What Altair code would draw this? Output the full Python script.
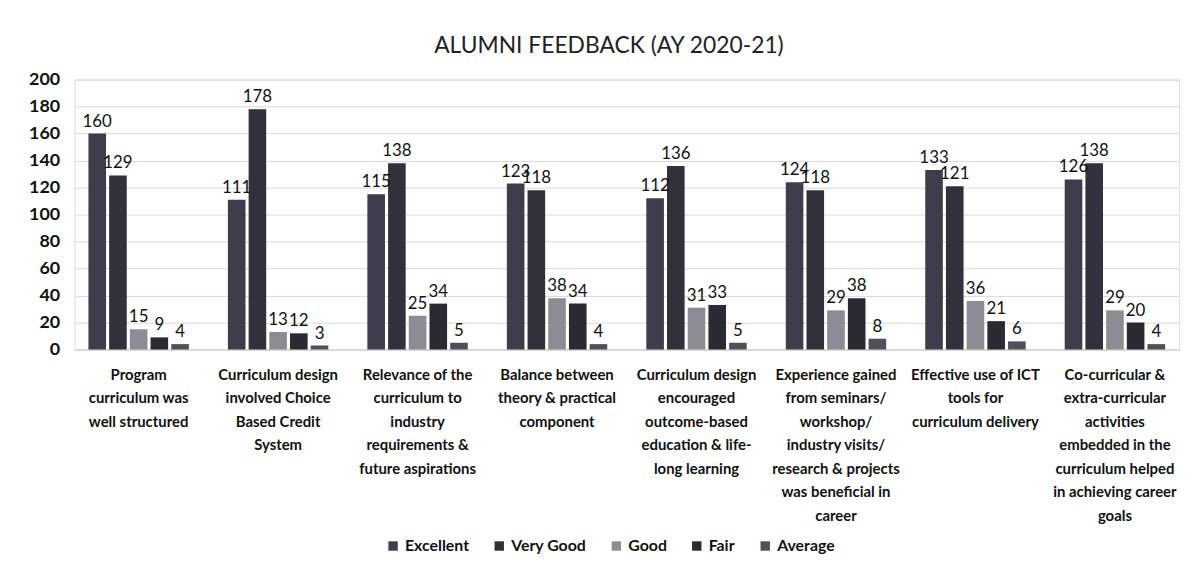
import altair as alt
import pandas as pd

categories = [
    "Program|curriculum was|well structured",
    "Curriculum design|involved Choice|Based Credit|System",
    "Relevance of the|curriculum to|industry|requirements &|future aspirations",
    "Balance between|theory & practical|component",
    "Curriculum design|encouraged|outcome-based|education & life-|long learning",
    "Experience gained|from seminars/|workshop/|industry visits/|research & projects|was beneficial in|career",
    "Effective use of ICT|tools for|curriculum delivery",
    "Co-curricular &|extra-curricular|activities|embedded in the|curriculum helped|in achieving career|goals",
]
series = ["Excellent", "Very Good", "Good", "Fair", "Average"]
excellent = [160, 111, 115, 123, 112, 124, 133, 126]
very_good = [129, 178, 138, 118, 136, 118, 121, 138]
good = [15, 13, 25, 38, 31, 29, 36, 29]
fair = [9, 12, 34, 34, 33, 38, 21, 20]
average = [4, 3, 5, 4, 5, 8, 6, 4]
y_ticks = [0, 20, 40, 60, 80, 100, 120, 140, 160, 180, 200]
colors = ["#3d3d4b", "#31313c", "#8c8c94", "#2a2a33", "#50505a"]

rows = []
for vals, s in zip([excellent, very_good, good, fair, average], series):
    for c, v in zip(categories, vals):
        rows.append({"category": c, "series": s, "value": v})
df = pd.DataFrame(rows)

FONT = "Lato"

x = alt.X("category:N", sort=categories,
          scale=alt.Scale(paddingInner=0.28, paddingOuter=0.1),
          axis=alt.Axis(title=None, labelAngle=0, labelExpr="split(datum.label, '|')",
                        labelFontWeight="bold", labelFontSize=15, labelLineHeight=23.7,
                        labelColor="#111", labelFont=FONT, ticks=False, domain=True,
                        domainColor="#d0d0d0", labelPadding=18, labelLimit=200,
                        labelOverlap=False))
xo = alt.XOffset("series:N", sort=series, scale=alt.Scale(paddingInner=0.15))
y = alt.Y("value:Q", scale=alt.Scale(domain=[0, 200]),
          axis=alt.Axis(title=None, values=y_ticks, labelFontWeight="bold",
                        labelFontSize=18, labelColor="#111", labelFont=FONT, ticks=False,
                        domain=False, gridColor="#d9d9d9", labelPadding=15,
                        labelOverlap=False))

bars = alt.Chart(df).mark_bar().encode(
    x=x, xOffset=xo, y=y,
    color=alt.Color("series:N", sort=series,
                    scale=alt.Scale(domain=series, range=colors),
                    legend=alt.Legend(title=None, orient="none", direction="horizontal",
                                      legendX=313, legendY=462, symbolType="square",
                                      symbolSize=90, labelFontSize=16, labelFont=FONT,
                                      labelFontWeight="bold", labelColor="#111",
                                      columnPadding=22, symbolOpacity=1)),
)

labels = alt.Chart(df).mark_text(dy=-12, fontSize=17, font=FONT, color="#111").encode(
    x=x, xOffset=xo, y=y, text="value:Q",
)

chart = alt.layer(bars, labels).properties(
    width=1113, height=272,
    title=alt.Title("ALUMNI FEEDBACK (AY 2020-21)", fontSize=23, font=FONT,
                    fontWeight="normal", color="#222", offset=13, dx=-18),
    autosize=alt.AutoSizeParams(type="none"),
    padding={"left": 67, "top": 70, "right": 10, "bottom": 211},
).configure_view(stroke=None).configure(background="white")

chart.save("out.html", embed_options={"renderer": "svg", "actions": False})
